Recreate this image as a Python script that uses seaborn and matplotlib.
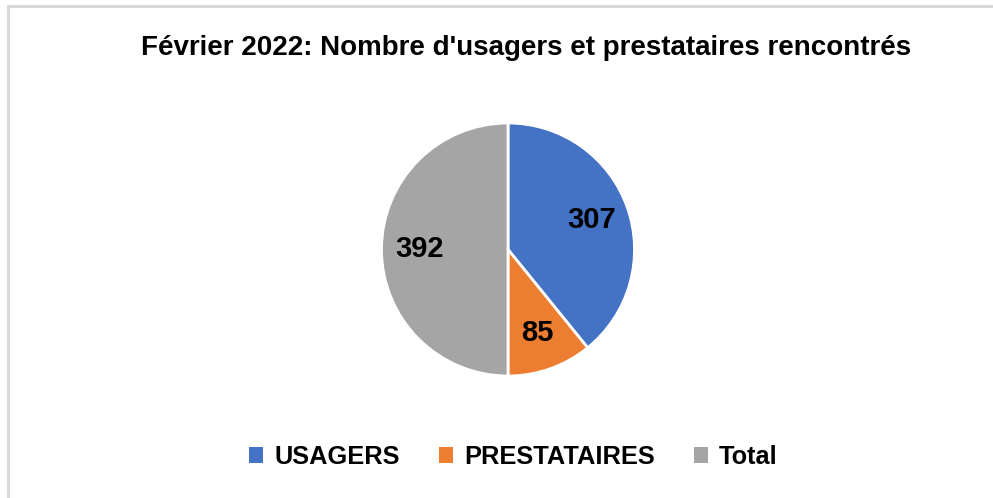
import matplotlib
matplotlib.use("Agg")
import matplotlib.pyplot as plt
import seaborn as sns
from matplotlib.lines import Line2D
from matplotlib.patches import Patch

# donnees
categories = ["USAGERS", "PRESTATAIRES", "Total"]
valeurs = [307, 85, 392]
couleurs = ["#4472C4", "#ED7D31", "#A5A5A5"]
titre = "Février 2022: Nombre d'usagers et prestataires rencontrés"

sns.set_style("white")
plt.rcParams['font.family'] = ['Liberation Sans', 'DejaVu Sans']
plt.rcParams['text.color'] = 'black'

fig = plt.figure(figsize=(9.93, 4.98), dpi=100)

# cadre gris clair (gauche et haut)
fig.add_artist(Line2D([0.008, 0.008], [0, 0.988], color="#d9d9d9", lw=2.2))
fig.add_artist(Line2D([0.008, 1], [0.988, 0.988], color="#d9d9d9", lw=2.2))

ax = fig.add_axes([(508 - 126.5) / 993, (498 - 376) / 498, 253 / 993, 253 / 498])
wedges, textes = ax.pie(valeurs, colors=couleurs, startangle=90, counterclock=False,
                        labels=[str(v) for v in valeurs], labeldistance=0.7,
                        wedgeprops=dict(edgecolor="white", linewidth=2))
for t in textes:
    t.set_fontsize(21)
    t.set_fontweight("bold")
    t.set_color("black")
    t.set_ha("center")
    t.set_va("center")
ax.set_xlim(-1.0, 1.0)
ax.set_ylim(-1.0, 1.0)

fig.text(0.53, 0.903, titre, ha="center", va="center", fontsize=20,
         fontweight="bold", color="black")

handles = [Patch(facecolor=c, edgecolor="none") for c in couleurs]
fig.legend(handles, categories, loc="center", bbox_to_anchor=(0.517, 0.082), ncol=3,
           frameon=False, handlelength=0.56, handleheight=0.56, handletextpad=0.44,
           columnspacing=1.52, prop={"weight": "bold", "size": 18.3})

fig.savefig("out.png", dpi=100)
